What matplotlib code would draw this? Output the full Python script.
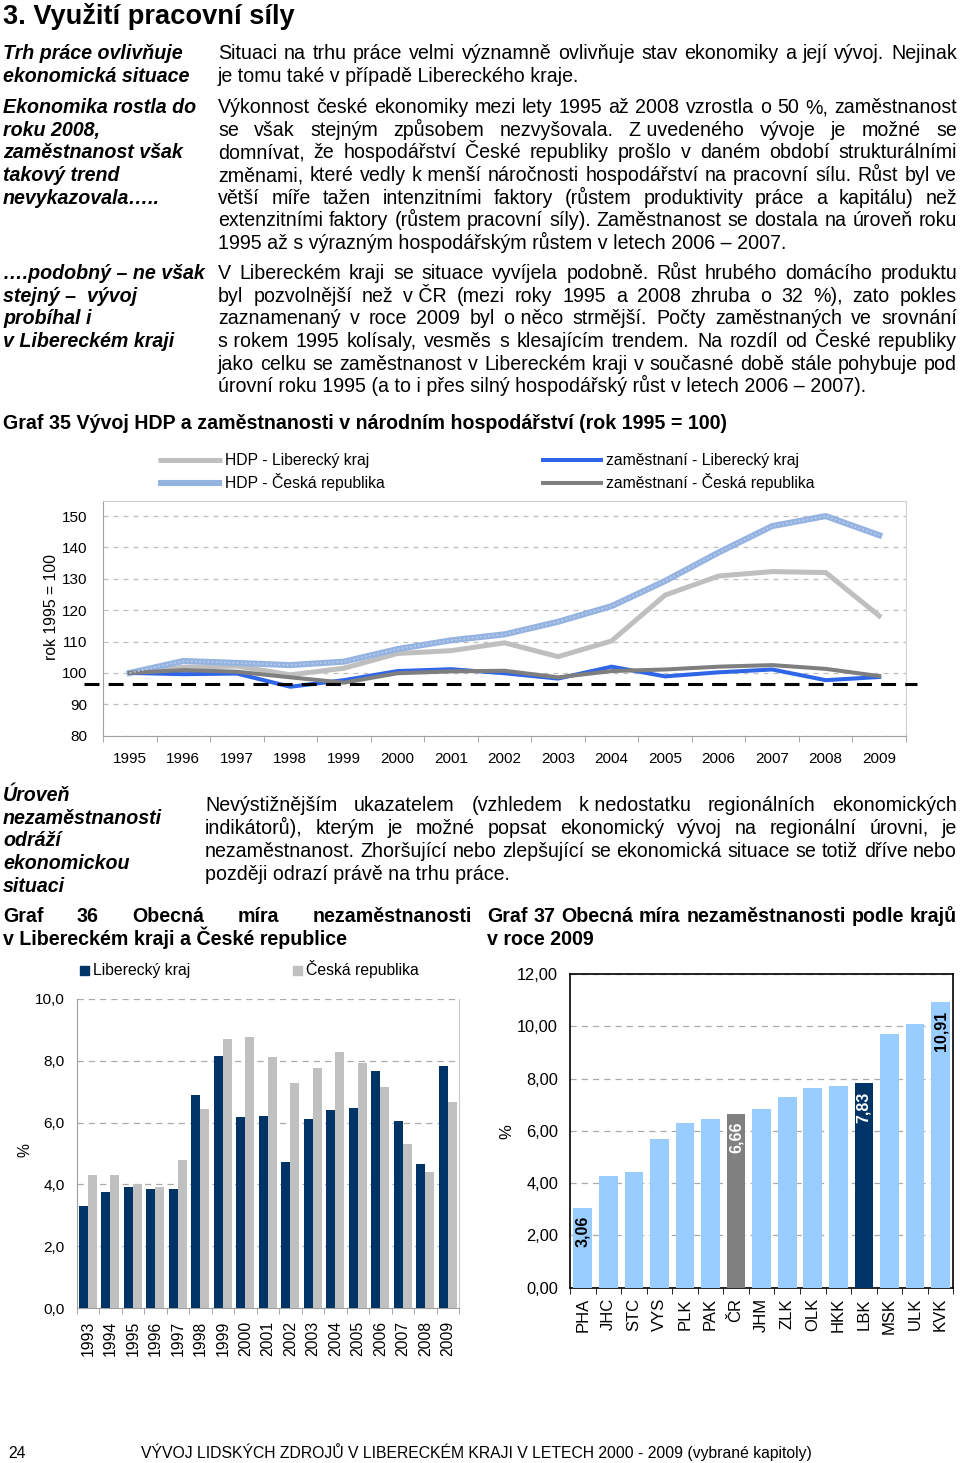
import matplotlib
matplotlib.use('Agg')
import matplotlib.pyplot as plt
import numpy as np
from matplotlib.lines import Line2D
from matplotlib.patches import Rectangle
import matplotlib.transforms as mtransforms
from matplotlib.ticker import FuncFormatter

plt.rcParams['font.family'] = ['Liberation Sans', 'DejaVu Sans']

# ---------------- data ----------------
years35 = ['1995', '1996', '1997', '1998', '1999', '2000', '2001', '2002',
           '2003', '2004', '2005', '2006', '2007', '2008', '2009']
hdp_lk = [100, 101.8, 102.2, 99.4, 101.5, 106.2, 107.1, 109.6, 105.2, 110.2,
          124.8, 130.9, 132.3, 132.0, 118.2]
hdp_cr = [100, 103.8, 103.2, 102.5, 103.6, 107.6, 110.4, 112.3, 116.3, 121.3,
          129.3, 138.4, 146.8, 150.0, 143.9]
zam_lk = [100, 99.6, 99.8, 95.6, 97.7, 100.6, 101.2, 99.9, 98.2, 102.0,
          98.9, 100.2, 101.1, 97.7, 98.7]
zam_cr = [100, 100.9, 100.4, 98.6, 96.9, 99.9, 100.5, 100.7, 98.6, 100.6,
          101.1, 102.0, 102.5, 101.3, 99.0]
ref_level = 96.6
series35_labels = ['HDP - Liberecký kraj', 'HDP - Česká republika',
                   'zaměstnaní - Liberecký kraj', 'zaměstnaní - Česká republika']

years36 = ['1993', '1994', '1995', '1996', '1997', '1998', '1999', '2000', '2001',
           '2002', '2003', '2004', '2005', '2006', '2007', '2008', '2009']
unemp_lk = [3.29, 3.75, 3.93, 3.86, 3.84, 6.88, 8.16, 6.17, 6.22, 4.72, 6.11,
            6.41, 6.48, 7.67, 6.06, 4.66, 7.84]
unemp_cr = [4.31, 4.29, 4.01, 3.90, 4.80, 6.44, 8.71, 8.76, 8.13, 7.27, 7.78,
            8.30, 7.92, 7.14, 5.31, 4.40, 6.66]
series36_labels = ['Liberecký kraj', 'Česká republika']

regions37 = ['PHA', 'JHC', 'STC', 'VYS', 'PLK', 'PAK', 'ČR', 'JHM', 'ZLK',
             'OLK', 'HKK', 'LBK', 'MSK', 'ULK', 'KVK']
rate37 = [3.06, 4.29, 4.44, 5.69, 6.31, 6.45, 6.66, 6.85, 7.31, 7.65, 7.72,
          7.83, 9.69, 10.09, 10.91]
labelled37 = ['PHA', 'ČR', 'LBK', 'KVK']

# ---------------- figure helpers ----------------
W, H = 960, 1463
fig = plt.figure(figsize=(9.6, 14.63), dpi=100)
fig.patch.set_facecolor('white')
renderer = fig.canvas.get_renderer()


def fx(x):
    return x / W


def fy(y):
    return 1 - y / H


def axes_px(left, top, right, bottom):
    return fig.add_axes([fx(left), fy(bottom), (right - left) / W, (bottom - top) / H])


def text_width(s, **kw):
    t = fig.text(0, 0, s, **kw)
    w = t.get_window_extent(renderer).width
    t.remove()
    return w


def put_line(s, x0, x1, y, justify=False, **kw):
    if not justify:
        fig.text(fx(x0), fy(y), s, ha='left', va='baseline', **kw)
        return
    words = s.split(' ')
    widths = [text_width(w, **kw) for w in words]
    gap = (x1 - x0 - sum(widths)) / max(len(words) - 1, 1)
    x = x0
    for w, wd in zip(words, widths):
        fig.text(fx(x), fy(y), w, ha='left', va='baseline', **kw)
        x += wd + gap


def paragraph(lines, x0, x1, y0, dy, **kw):
    for i, s in enumerate(lines):
        put_line(s, x0, x1, y0 + i * dy, justify=(i < len(lines) - 1), **kw)


NB = '\u00a0'
BODY = dict(fontsize=14.1)
SIDE = dict(fontsize=14.1, fontweight='bold', fontstyle='italic')
BOLD = dict(fontsize=14.1, fontweight='bold')

# ---------------- text ----------------
fig.text(fx(3), fy(24), '3. Využití pracovní síly', ha='left', va='baseline',
         fontsize=19.6, fontweight='bold')

side1 = ['Trh práce ovlivňuje', 'ekonomická situace']
side2 = ['Ekonomika rostla do', 'roku 2008,', 'zaměstnanost však', 'takový trend',
         'nevykazovala…..']
side3 = ['….podobný – ne však', 'stejný –  vývoj', 'probíhal i', 'v Libereckém kraji']
side4 = ['Úroveň', 'nezaměstnanosti', 'odráží', 'ekonomickou', 'situaci']
for lines, y0 in [(side1, 59), (side2, 113), (side3, 279)]:
    for i, s in enumerate(lines):
        put_line(s, 3, 0, y0 + i * 22.7, **SIDE)
for i, s in enumerate(side4):
    put_line(s, 3, 0, 801 + i * 22.7, **SIDE)

para1 = ['Situaci na trhu práce velmi významně ovlivňuje stav ekonomiky a její vývoj. Nejinak',
         'je tomu také v případě Libereckého kraje.']
para2 = ['Výkonnost české ekonomiky mezi lety 1995 až 2008 vzrostla o 50 %, zaměstnanost',
         'se však stejným způsobem nezvyšovala. Z' + NB + 'uvedeného vývoje je možné se',
         'domnívat, že hospodářství České republiky prošlo v daném období strukturálními',
         'změnami, které vedly k' + NB + 'menší náročnosti hospodářství na pracovní sílu. Růst byl ve',
         'větší míře tažen intenzitními faktory (růstem produktivity práce a kapitálu) než',
         'extenzitními faktory (růstem pracovní síly). Zaměstnanost se dostala na úroveň roku',
         '1995 až s výrazným hospodářským růstem v letech 2006 – 2007.']
para3 = ['V Libereckém kraji se situace vyvíjela podobně. Růst hrubého domácího produktu',
         'byl pozvolnější než v' + NB + 'ČR (mezi roky 1995 a 2008 zhruba o 32 %), zato pokles',
         'zaznamenaný v roce 2009 byl o' + NB + 'něco strmější. Počty zaměstnaných ve srovnání',
         's' + NB + 'rokem 1995 kolísaly, vesměs s klesajícím trendem. Na rozdíl od České republiky',
         'jako celku se zaměstnanost v Libereckém kraji v současné době stále pohybuje pod',
         'úrovní roku 1995 (a to i přes silný hospodářský růst v letech 2006 – 2007).']
para4 = ['Nevýstižnějším ukazatelem (vzhledem k' + NB + 'nedostatku regionálních ekonomických',
         'indikátorů), kterým je možné popsat ekonomický vývoj na regionální úrovni, je',
         'nezaměstnanost. Zhoršující nebo zlepšující se ekonomická situace se totiž dříve nebo',
         'později odrazí právě na trhu práce.']
paragraph(para1, 218, 957, 59, 22.7, **BODY)
paragraph(para2, 218, 957, 113, 22.7, **BODY)
paragraph(para3, 218, 957, 279, 22.7, **BODY)
paragraph(para4, 205, 957, 811, 22.9, **BODY)

put_line('Graf 35 Vývoj HDP a zaměstnanosti v národním hospodářství (rok 1995 = 100)',
         3, 0, 429, **BOLD)
paragraph(['Graf 36 Obecná míra nezaměstnanosti', 'v Libereckém kraji a České republice'],
          3, 472, 922, 22.7, **BOLD)
paragraph(['Graf 37 Obecná míra nezaměstnanosti podle krajů', 'v roce 2009'],
          487, 957, 922, 22.7, **BOLD)

fig.text(fx(8), fy(1458), '24', ha='left', va='baseline', fontsize=11.3)
fig.text(fx(476.5), fy(1458),
         'VÝVOJ LIDSKÝCH ZDROJŮ V LIBERECKÉM KRAJI V LETECH 2000 - 2009 (vybrané kapitoly)',
         ha='center', va='baseline', fontsize=11.3)

# ---------------- Graf 35 ----------------
ax1 = axes_px(103, 501, 906, 735.7)
x35 = np.arange(len(years35))
styles35 = [dict(color='#BFBFBF', lw=3.6), dict(color='#95B3E0', lw=4.4),
            dict(color='#2F66E8', lw=2.9), dict(color='#7F7F7F', lw=2.9)]
lines35 = []
for vals, st, lab in zip([hdp_lk, hdp_cr, zam_lk, zam_cr], styles35, series35_labels):
    ln, = ax1.plot(x35, vals, label=lab, zorder=3, solid_joinstyle='round', **st)
    lines35.append(ln)
# texture on the CZ GDP line
ax1.plot(x35, hdp_cr, color='#BCCFEC', lw=1.2, ls=(0, (1, 1.5)), zorder=3.1)

blend = mtransforms.blended_transform_factory(ax1.transAxes, ax1.transData)
ax1.plot([(84 - 103) / 803, (917 - 103) / 803], [ref_level, ref_level], transform=blend,
         color='black', lw=2.2, ls=(0, (4.9, 3)), clip_on=False, zorder=5)

ax1.set_xlim(-0.5, len(years35) - 0.5)
ax1.set_ylim(80, 154.8)
ax1.set_yticks(np.arange(80, 151, 10))
ax1.yaxis.grid(True, ls=(0, (4, 4)), color='#BFBFBF', lw=0.9)
ax1.set_axisbelow(True)
ax1.set_xticks(x35, years35)
ax1.set_xticks(np.arange(-0.5, len(years35)), minor=True)
ax1.tick_params(axis='x', which='major', length=0, pad=12, labelsize=11)
ax1.tick_params(axis='x', which='minor', length=4, color='#999999')
ax1.tick_params(axis='y', length=0, pad=11.5, labelsize=11)
for sp in ['top', 'right']:
    ax1.spines[sp].set_color('#D0D0D0')
for sp in ['left', 'bottom']:
    ax1.spines[sp].set_color('#A0A0A0')
fig.text(fx(52), fy(607), 'rok 1995 = 100', rotation=90, ha='center', va='center',
         fontsize=11.3)

# legend of Graf 35 (handles use the line styles)
leg_pos = [(158, 222, 460), (158, 222, 483), (541, 603, 460), (541, 603, 483)]
for ln, (xa, xb, yy) in zip(lines35, leg_pos):
    fig.add_artist(Line2D([fx(xa), fx(xb)], [fy(yy), fy(yy)], color=ln.get_color(),
                          lw=ln.get_linewidth(), solid_capstyle='butt',
                          transform=fig.transFigure))
    fig.text(fx(xb + 3), fy(yy + 5), ln.get_label(), ha='left', va='baseline',
             fontsize=11.3)

# ---------------- Graf 36 ----------------
ax2 = axes_px(76.7, 999, 459, 1308)
x36 = np.arange(len(years36))
c_lk, c_cr = '#003366', '#C0C0C0'
ax2.bar(x36 - 0.2, unemp_lk, width=0.4, color=c_lk, zorder=3, label=series36_labels[0])
ax2.bar(x36 + 0.2, unemp_cr, width=0.4, color=c_cr, zorder=3, label=series36_labels[1])
ax2.set_xlim(-0.5, len(years36) - 0.5)
ax2.set_ylim(0, 10)
ax2.set_yticks(np.arange(0, 10.1, 2))
ax2.yaxis.set_major_formatter(FuncFormatter(lambda v, p: f'{v:.1f}'.replace('.', ',')))
ax2.yaxis.grid(True, ls=(0, (5, 4)), color='#AAAAAA', lw=0.9)
ax2.set_axisbelow(True)
ax2.set_xticks(x36, years36, rotation=90)
ax2.set_xticks(np.arange(-0.5, len(years36)), minor=True)
ax2.tick_params(axis='x', which='major', length=0, pad=9, labelsize=11.3)
ax2.tick_params(axis='x', which='minor', length=4, color='#999999')
ax2.tick_params(axis='y', length=0, pad=8.5, labelsize=11.1)
ax2.spines['top'].set_visible(False)
ax2.spines['right'].set_color('#C8C8C8')
ax2.spines['left'].set_color('#A0A0A0')
ax2.spines['bottom'].set_color('#A0A0A0')
fig.text(fx(25), fy(1150), '%', rotation=90, ha='center', va='center', fontsize=11.3)
for (xa, xt, col, lab) in [(80, 93, c_lk, series36_labels[0]), (293, 306, c_cr, series36_labels[1])]:
    fig.add_artist(Rectangle((fx(xa), fy(975)), 9 / W, 9 / H, color=col,
                             transform=fig.transFigure))
    fig.text(fx(xt), fy(975), lab, ha='left', va='baseline', fontsize=11.3)

# ---------------- Graf 37 ----------------
ax3 = axes_px(570, 974, 953.3, 1287.7)
x37 = np.arange(len(regions37))
special = {'ČR': '#808080', 'LBK': '#003366'}
cols37 = [special.get(r, '#99CCFF') for r in regions37]
ax3.bar(x37, rate37, width=0.73, color=cols37, zorder=3)
ax3.set_xlim(-0.5, len(regions37) - 0.5)
ax3.set_ylim(0, 12)
ax3.set_yticks(np.arange(0, 12.1, 2))
ax3.yaxis.set_major_formatter(FuncFormatter(lambda v, p: f'{v:.2f}'.replace('.', ',')))
ax3.yaxis.grid(True, ls=(0, (5, 4)), color='#AAAAAA', lw=0.9)
ax3.set_axisbelow(True)
ax3.set_xticks(x37, regions37, rotation=90)
ax3.set_xticks(np.arange(-0.5, len(regions37)), minor=True)
ax3.tick_params(axis='x', which='major', length=0, pad=7.5, labelsize=12)
ax3.tick_params(axis='x', which='minor', length=4, color='black')
ax3.tick_params(axis='y', length=0, pad=8.6, labelsize=11.8)
for sp in ax3.spines.values():
    sp.set_color('black')
    sp.set_linewidth(1.2)
fig.text(fx(507), fy(1132), '%', rotation=90, ha='center', va='center', fontsize=12)
for r, xi, v, c in zip(regions37, x37, rate37, cols37):
    if r in labelled37:
        tc = 'white' if c in special.values() else 'black'
        ax3.annotate(f'{v:.2f}'.replace('.', ','), (xi, v), xytext=(0, -6),
                     textcoords='offset points', rotation=90, ha='center', va='top',
                     fontsize=11.5, fontweight='bold', color=tc, zorder=4)

fig.savefig('out.png', dpi=100)
